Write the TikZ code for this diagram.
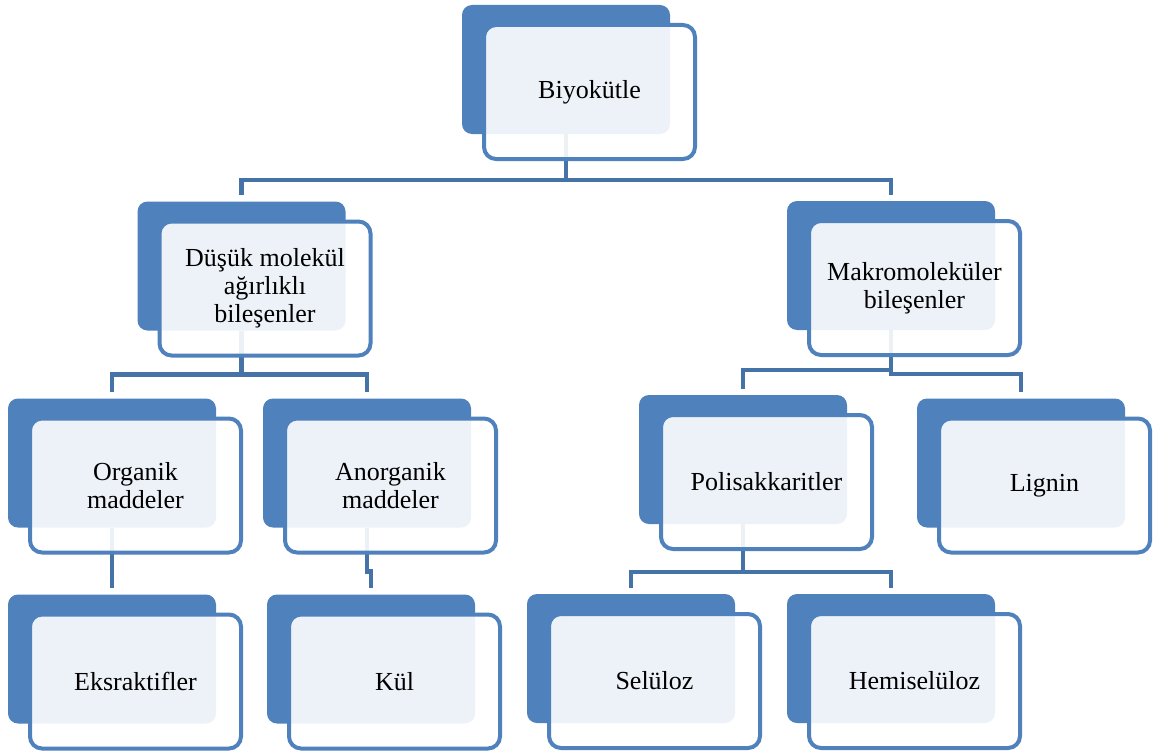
\documentclass[tikz,border=0pt]{standalone}
\usepackage{fontspec}
\setmainfont{Liberation Serif}
\usetikzlibrary{backgrounds,calc}
\definecolor{accent}{RGB}{79,129,189}
\definecolor{linkblue}{RGB}{69,114,167}

% one hierarchy entry: a solid back plate and a translucent framed card holding the text
\newcommand\unitbox[4]{%
  \node[backplate] (#1-b) at (#2-23.5,#3+22.5) {};
  \node[card] (#1) at (#2,#3) {#4};}

\begin{document}
\begin{tikzpicture}[x=1pt,y=1pt,
  backplate/.style={fill=accent, rounded corners=10pt, minimum width=208pt,
    minimum height=129pt, inner sep=0pt},
  card/.style={draw=accent, line width=4pt, fill=white, fill opacity=0.9,
    text opacity=1, rounded corners=12pt, minimum width=211pt,
    minimum height=134pt, inner sep=0pt, align=center,
    font=\fontsize{26}{28}\selectfont},
  link/.style={draw=linkblue, line width=4.5pt}
]
\useasboundingbox (0,0) rectangle (1158,-752);

\unitbox{bio}{589.5}{-92}{Biyokütle}
\unitbox{dus}{265}{-288.5}{Düşük molekül\\ağırlıklı\\bileşenler}
\unitbox{mak}{914.5}{-288}{Makromoleküler\\bileşenler}
\unitbox{org}{135.5}{-485.5}{Organik\\maddeler}
\unitbox{ano}{390.5}{-485.5}{Anorganik\\maddeler}
\unitbox{pol}{766.5}{-482}{Polisakkaritler}
\unitbox{lig}{1044.5}{-485.5}{Lignin}
\unitbox{eks}{135.5}{-681.5}{Eksraktifler}
\unitbox{kul}{394.5}{-681.5}{Kül}
\unitbox{sel}{654.5}{-681}{Selüloz}
\unitbox{hem}{914.5}{-681}{Hemiselüloz}

\begin{scope}[on background layer]
  \fill[white] (0,0) rectangle (1158,-752);
  \draw[link] (bio-b.south) -- ++(0,-46) -| ([yshift=6pt]dus-b.north);
  \draw[link] (bio-b.south) -- ++(0,-46) -| ([yshift=6pt]mak-b.north);
  \draw[link] (dus-b.south) -- ++(0,-44) -| ([yshift=6pt]org-b.north);
  \draw[link] (dus-b.south) -- ++(0,-44) -| ([yshift=6pt]ano-b.north);
  \draw[link] (org-b.south) -- ([yshift=6pt]eks-b.north);
  \draw[link] (ano-b.south) -- ++(0,-44) -| ([yshift=6pt]kul-b.north);
  \draw[link] (mak-b.south) -- ++(0,-40) -| ([yshift=6pt]pol-b.north);
  \draw[link] (mak-b.south) -- ++(0,-44) -| ([yshift=6pt]lig-b.north);
  \draw[link] (pol-b.south) -- ++(0,-48) -| ([yshift=6pt]sel-b.north);
  \draw[link] (pol-b.south) -- ++(0,-48) -| ([yshift=6pt]hem-b.north);
\end{scope}
\end{tikzpicture}
\end{document}
